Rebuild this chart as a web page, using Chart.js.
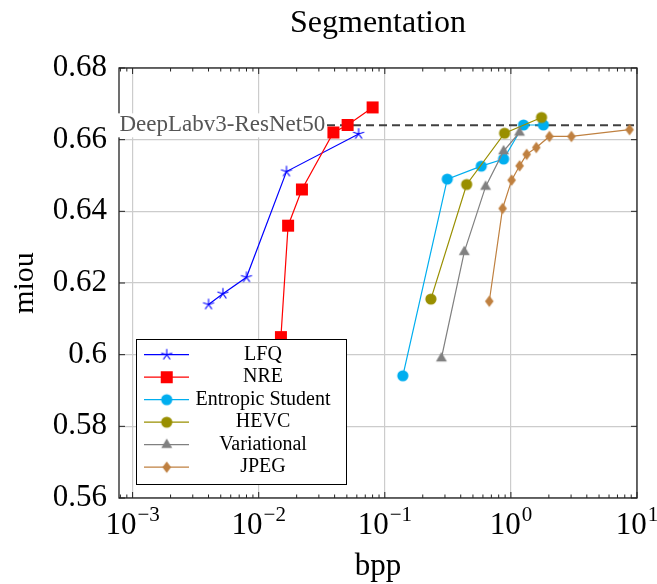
<!DOCTYPE html>
<html>
<head>
<meta charset="utf-8">
<title>Segmentation</title>
<script src="https://cdn.jsdelivr.net/npm/chart.js@4.4.1/dist/chart.umd.min.js"></script>
<style>
  html, body { margin: 0; padding: 0; background: #fff; }
  #wrap { width: 657px; height: 584px; }
</style>
</head>
<body>
<div id="wrap"><canvas id="seg" width="657" height="584"></canvas></div>
<script>
// rate / mIoU points for each codec
const seriesNames = ['LFQ', 'NRE', 'Entropic Student', 'HEVC', 'Variational', 'JPEG'];
const seriesColors = ['#0000ff', '#ff0000', '#00aeef', '#998f00', '#808080', '#bf8040'];
const seriesMarks = ['star', 'square', 'circle', 'circle', 'triangle', 'diamond'];

const lfqBpp = [0.0040, 0.0052, 0.0080, 0.0166, 0.062];
const lfqMiou = [0.614, 0.617, 0.6216, 0.6511, 0.6616];

const nreBpp = [0.0150, 0.0171, 0.0220, 0.0391, 0.0507, 0.080];
const nreMiou = [0.6049, 0.636, 0.6461, 0.662, 0.6641, 0.669];

const entropicBpp = [0.139, 0.313, 0.582, 0.875, 1.26, 1.81];
const entropicMiou = [0.5941, 0.649, 0.6526, 0.6546, 0.6641, 0.6641];

const hevcBpp = [0.232, 0.446, 0.891, 1.75];
const hevcMiou = [0.6155, 0.6475, 0.6618, 0.6662];

const variationalBpp = [0.281, 0.427, 0.630, 0.875, 1.17];
const variationalMiou = [0.599, 0.6287, 0.6469, 0.6568, 0.662];

const jpegBpp = [0.674, 0.859, 1.013, 1.172, 1.333, 1.59, 2.02, 3.02, 8.73];
const jpegMiou = [0.6149, 0.6408, 0.6487, 0.6527, 0.6559, 0.6578, 0.6609, 0.6609, 0.6628];

const bppValues = [lfqBpp, nreBpp, entropicBpp, hevcBpp, variationalBpp, jpegBpp];
const miouValues = [lfqMiou, nreMiou, entropicMiou, hevcMiou, variationalMiou, jpegMiou];

// uncompressed reference model
const baselineName = 'DeepLabv3-ResNet50';
const baselineMiou = 0.664;

const xTicks = [1e-3, 1e-2, 1e-1, 1, 10];
const yTicks = [0.56, 0.58, 0.6, 0.62, 0.64, 0.66, 0.68];
const xMin = 7.8e-4;
const xMax = 10;

const serif = "'Liberation Serif', 'DejaVu Serif', serif";

// small sprites for the plot marks, reused by the legend
function makeMark(kind, color) {
  const c = document.createElement('canvas');
  c.width = 16;
  c.height = 16;
  const g = c.getContext('2d');
  g.translate(8, 8);
  g.fillStyle = color;
  g.strokeStyle = color;
  if (kind === 'star') {
    g.lineWidth = 1.1;
    g.beginPath();
    for (let i = 0; i < 5; i++) {
      const a = -Math.PI / 2 + i * 2 * Math.PI / 5;
      g.moveTo(0, 0);
      g.lineTo(5.8 * Math.cos(a), 5.8 * Math.sin(a));
    }
    g.stroke();
  } else if (kind === 'square') {
    g.fillRect(-6, -6, 12, 12);
  } else if (kind === 'circle') {
    g.beginPath();
    g.arc(0, 0, 5.6, 0, 2 * Math.PI);
    g.fill();
  } else if (kind === 'triangle') {
    const r = 6.3;
    g.beginPath();
    g.moveTo(0, -r);
    g.lineTo(r * 0.866, r / 2);
    g.lineTo(-r * 0.866, r / 2);
    g.closePath();
    g.fill();
  } else if (kind === 'diamond') {
    g.beginPath();
    g.moveTo(0, -5.8);
    g.lineTo(4.3, 0);
    g.lineTo(0, 5.8);
    g.lineTo(-4.3, 0);
    g.closePath();
    g.fill();
  }
  return c;
}

const markImages = seriesMarks.map((m, i) => makeMark(m, seriesColors[i]));

const datasets = seriesNames.map((name, i) => ({
  label: name,
  data: bppValues[i].map((x, k) => ({ x: x, y: miouValues[i][k] })),
  showLine: true,
  borderColor: seriesColors[i],
  backgroundColor: seriesColors[i],
  borderWidth: 1.2,
  pointStyle: markImages[i],
  pointRadius: 5,
  pointHoverRadius: 5,
  order: seriesNames.length - i,
}));

datasets.push({
  label: baselineName,
  data: [{ x: xMin, y: baselineMiou }, { x: xMax, y: baselineMiou }],
  showLine: true,
  borderColor: '#404040',
  borderWidth: 2,
  borderDash: [8, 5],
  pointRadius: 0,
  order: 100,
});

// frame, inward ticks, 10^n labels, baseline caption and the legend
const decorations = {
  id: 'decorations',
  afterDatasetsDraw(chart) {
    const { ctx, chartArea: a, scales: { x, y } } = chart;
    ctx.save();

    ctx.strokeStyle = '#222';
    ctx.lineWidth = 1;
    ctx.beginPath();
    yTicks.forEach(v => {
      const py = y.getPixelForValue(v);
      ctx.moveTo(a.left, py); ctx.lineTo(a.left + 6, py);
      ctx.moveTo(a.right, py); ctx.lineTo(a.right - 6, py);
    });
    xTicks.forEach(v => {
      const px = x.getPixelForValue(v);
      ctx.moveTo(px, a.bottom); ctx.lineTo(px, a.bottom - 6);
      ctx.moveTo(px, a.top); ctx.lineTo(px, a.top + 6);
    });
    for (let e = -4; e <= 1; e++) {
      for (let m = 2; m <= 9; m++) {
        const v = m * Math.pow(10, e);
        if (v <= xMin || v >= xMax) continue;
        const px = x.getPixelForValue(v);
        ctx.moveTo(px, a.bottom); ctx.lineTo(px, a.bottom - 3.5);
        ctx.moveTo(px, a.top); ctx.lineTo(px, a.top + 3.5);
      }
    }
    ctx.stroke();

    ctx.lineWidth = 1.3;
    ctx.strokeRect(a.left, a.top, a.right - a.left, a.bottom - a.top);

    // x tick labels as 10 with a raised exponent
    ctx.fillStyle = '#000';
    ctx.textBaseline = 'alphabetic';
    ctx.textAlign = 'left';
    xTicks.forEach(v => {
      const px = x.getPixelForValue(v);
      const p = Math.round(Math.log10(v));
      const expText = (p < 0 ? '\u2212' : '') + Math.abs(p);
      ctx.font = '31px ' + serif;
      const wBase = ctx.measureText('10').width;
      ctx.font = '21px ' + serif;
      const wExp = ctx.measureText(expText).width;
      const left = px - (wBase + wExp + 1) / 2;
      ctx.font = '31px ' + serif;
      ctx.fillText('10', left, 534);
      ctx.font = '21px ' + serif;
      ctx.fillText(expText, left + wBase + 1, 521);
    });

    // baseline caption over the left end of the dashed line
    const by = y.getPixelForValue(baselineMiou);
    ctx.font = '23px ' + serif;
    const tw = ctx.measureText(baselineName).width;
    ctx.fillStyle = '#fff';
    ctx.fillRect(a.left - 2, by - 12, tw + 4, 24);
    ctx.fillStyle = '#555555';
    ctx.textBaseline = 'middle';
    ctx.fillText(baselineName, a.left + 0.5, by);

    ctx.restore();
  },
  afterDraw(chart) {
    const { ctx, chartArea: a } = chart;
    const lx = a.left + 17;
    const ly = a.bottom - 159;
    const w = 210;
    const h = 145;
    ctx.save();
    ctx.fillStyle = '#fff';
    ctx.fillRect(lx, ly, w, h);
    ctx.strokeStyle = '#000';
    ctx.lineWidth = 1;
    ctx.strokeRect(Math.round(lx) + 0.5, Math.round(ly) + 0.5, w, h);

    ctx.font = '20px ' + serif;
    ctx.textAlign = 'center';
    ctx.textBaseline = 'middle';
    seriesNames.forEach((name, i) => {
      const ry = ly + 15.7 + i * 22.5;
      ctx.strokeStyle = seriesColors[i];
      ctx.lineWidth = 1.2;
      ctx.beginPath();
      ctx.moveTo(lx + 8, ry);
      ctx.lineTo(lx + 53, ry);
      ctx.stroke();
      const img = markImages[i];
      ctx.drawImage(img, lx + 30.7 - img.width / 2, ry - img.height / 2);
      ctx.fillStyle = '#000';
      ctx.fillText(name, lx + 127, ry);
    });
    ctx.restore();
  },
};

new Chart(document.getElementById('seg'), {
  type: 'scatter',
  data: { datasets: datasets },
  options: {
    responsive: false,
    animation: false,
    devicePixelRatio: 1,
    layout: { padding: { top: 0, right: 20, bottom: 0, left: 0 } },
    plugins: {
      legend: { display: false },
      tooltip: { enabled: false },
      title: {
        display: true,
        text: 'Segmentation',
        color: '#000',
        fullSize: false,
        font: { family: serif, size: 32, weight: 'normal', lineHeight: '36px' },
        padding: { top: 6, bottom: 26 },
      },
    },
    scales: {
      x: {
        type: 'logarithmic',
        min: xMin,
        max: xMax,
        afterBuildTicks: s => { s.ticks = xTicks.map(v => ({ value: v })); },
        afterFit: s => { s.height = 86; },
        grid: { color: '#cccccc', lineWidth: 1.2, drawTicks: false },
        border: { display: false },
        ticks: { display: false },
        title: {
          display: true,
          text: 'bpp',
          color: '#000',
          font: { family: serif, size: 31, lineHeight: 1 },
          padding: { top: 0, bottom: 2 },
        },
      },
      y: {
        min: 0.56,
        max: 0.68,
        afterBuildTicks: s => { s.ticks = yTicks.map(v => ({ value: v })); },
        afterFit: s => { s.width = 119; },
        grid: { color: '#cccccc', lineWidth: 1.2, drawTicks: false },
        border: { display: false },
        ticks: {
          color: '#000',
          font: { family: serif, size: 31 },
          padding: 12,
          callback: v => String(+Number(v).toFixed(2)),
        },
        title: {
          display: true,
          text: 'miou',
          color: '#000',
          font: { family: serif, size: 30, lineHeight: 1 },
          padding: { top: 10, bottom: 0 },
        },
      },
    },
  },
  plugins: [decorations],
});
</script>
</body>
</html>
